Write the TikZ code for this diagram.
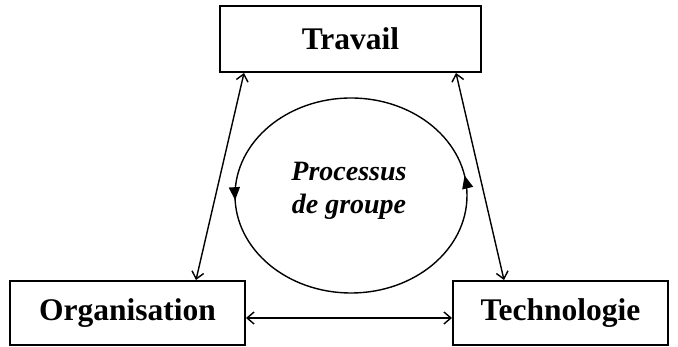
\documentclass[tikz,border=0pt]{standalone}
\usepackage{fontspec}
\setmainfont{Liberation Serif}
\usetikzlibrary{arrows.meta,decorations.markings,calc}
\begin{document}
\begin{tikzpicture}[x=1pt,y=1pt,
  box/.style={draw,line width=2pt,inner sep=0pt,font=\fontsize{31.5}{36}\selectfont\bfseries},
  link/.style={line width=1.4pt,{Straight Barb[length=7pt,width=12pt,line width=1.4pt]}-{Straight Barb[length=7pt,width=12pt,line width=1.4pt]}},
  cyc/.style={line width=1.4pt}]
\useasboundingbox (0,0) rectangle (678,347);
\node[box,minimum width=261pt,minimum height=66pt] (trav) at (350.5,308) {Travail};
\node[box,minimum width=235pt,minimum height=64pt] (org) at (127.5,34) {Organisation};
\node[box,minimum width=215pt,minimum height=64pt] (tech) at (560.5,34) {Technologie};
\node[align=center,font=\fontsize{28}{33}\selectfont\bfseries\itshape] (proc) at (349,156) {Processus\\de groupe};
\draw[cyc,postaction={decorate},decoration={markings,
   mark=at position 0.03 with {\arrow{Triangle[length=13pt,width=11pt]}},
   mark=at position 0.507 with {\arrow{Triangle[length=13pt,width=11pt]}}}]
   (351,151.5) ellipse [x radius=116, y radius=97.5];
\coordinate (t1) at ($(trav.south west)+(25,0)$);
\coordinate (t2) at ($(trav.south east)+(-26,0)$);
\coordinate (o1) at ($(org.north east)+(-50,0)$);
\coordinate (e1) at ($(tech.north west)+(52,0)$);
\draw[link] (t1) -- (o1);
\draw[link] (t2) -- (e1);
\draw[link] (org.east |- 0,29) -- (tech.west |- 0,29);
\end{tikzpicture}
\end{document}
